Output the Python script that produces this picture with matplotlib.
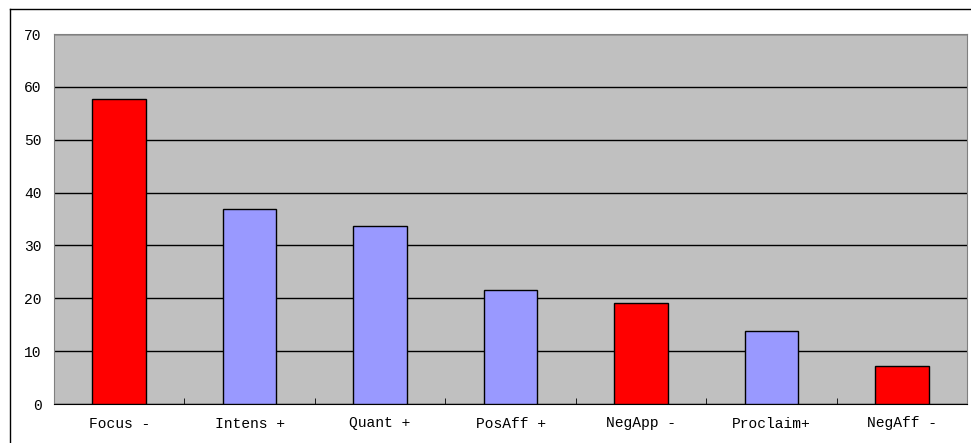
import matplotlib.pyplot as plt
from matplotlib.lines import Line2D

# Chart data
categories = ["Focus -", "Intens +", "Quant +", "PosAff +", "NegApp -", "Proclaim+", "NegAff -"]
values = [57.7, 36.9, 33.7, 21.6, 19.1, 13.8, 7.2]
bar_colors = ["#FF0000", "#9999FF", "#9999FF", "#9999FF", "#FF0000", "#9999FF", "#FF0000"]

plt.rcParams["font.family"] = ["Liberation Mono", "DejaVu Sans Mono"]

fig = plt.figure(figsize=(9.71, 4.43), dpi=100)
ax = fig.add_axes([54 / 971, 39 / 443, 913 / 971, 370 / 443])
ax.set_facecolor("#C0C0C0")

x = list(range(len(categories)))
ax.bar(x, values, width=0.41, color=bar_colors, edgecolor="black", linewidth=1, zorder=3)

ax.set_xlim(-0.5, len(categories) - 0.5)
ax.set_ylim(0, 70)
ax.set_yticks(range(0, 71, 10))
ax.yaxis.grid(True, color="black", linewidth=1)
ax.set_axisbelow(True)

ax.set_xticks(x)
ax.set_xticklabels(categories, fontsize=10.5)
ax.tick_params(axis="x", length=0, pad=9)
ax.set_xticks([i + 0.5 for i in range(len(categories) - 1)], minor=True)
ax.tick_params(axis="x", which="minor", direction="in", length=4, color="black")
ax.tick_params(axis="y", length=0, labelsize=10.5, pad=9)

for side in ["top", "right", "left"]:
    ax.spines[side].set_color("#808080")
ax.spines["bottom"].set_color("black")

# Outer chart border (only top and left edges visible)
fig.add_artist(Line2D([10 / 971, 10 / 971], [0, 1 - 9 / 443], transform=fig.transFigure,
                      color="black", linewidth=1))
fig.add_artist(Line2D([10 / 971, 1], [1 - 9 / 443, 1 - 9 / 443], transform=fig.transFigure,
                      color="black", linewidth=1))

fig.savefig("out.png", dpi=100)
